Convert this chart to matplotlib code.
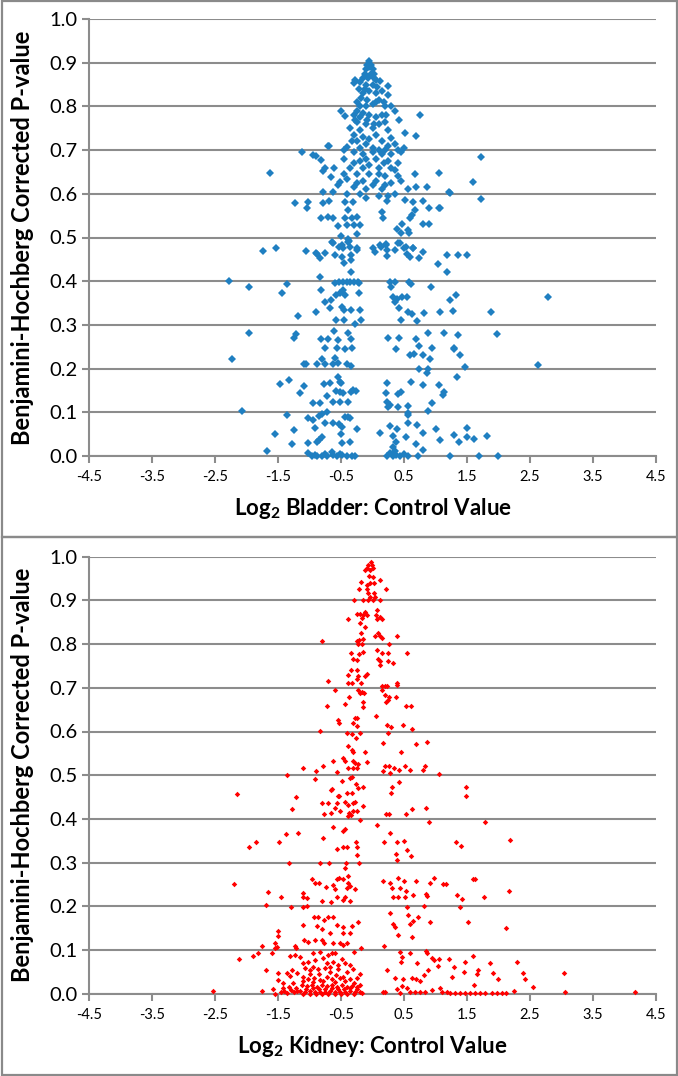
import matplotlib
matplotlib.use("Agg")
import matplotlib.pyplot as plt
from matplotlib.patches import Rectangle

plt.rcParams['font.family'] = ['Lato', 'DejaVu Sans']
plt.rcParams['mathtext.fontset'] = 'custom'
plt.rcParams['mathtext.rm'] = 'Lato'
plt.rcParams['mathtext.bf'] = 'Lato:bold'
plt.rcParams['axes.unicode_minus'] = False

# (log2 ratio, BH corrected p)
bladder_points = [
    # peak of the cone
    (-0.05, 0.905), (-0.08, 0.895), (-0.02, 0.895), (-0.10, 0.885), (0.00, 0.885), (-0.05, 0.890),
    (-0.12, 0.875), (-0.03, 0.875), (0.03, 0.875), (-0.15, 0.865), (-0.07, 0.865), (0.02, 0.865),
    (0.06, 0.860), (-0.20, 0.855), (-0.10, 0.850), (0.00, 0.850),
    (-0.30, 0.853), (0.12, 0.857), (0.25, 0.847), (-0.12, 0.840), (-0.05, 0.835), (0.05, 0.830),
    (0.24, 0.826), (-0.18, 0.820), (-0.08, 0.815), (0.10, 0.815), (0.18, 0.810), (-0.20, 0.800),
    (-0.10, 0.800), (0.00, 0.805), (0.20, 0.800), (0.30, 0.800), (-0.25, 0.790),
    (-0.28, 0.860), (-0.22, 0.840), (-0.15, 0.830), (0.07, 0.845), (0.15, 0.835), (-0.25, 0.810),
    (0.05, 0.810), (-0.28, 0.770), (-0.08, 0.770), (0.02, 0.760), (0.22, 0.780), (-0.33, 0.720),
    (-0.05, 0.725), (0.25, 0.710), (-0.45, 0.700), (-0.10, 0.680), (0.18, 0.670), (-0.30, 0.670),
    (0.30, 0.660), (-0.05, 0.665), (-0.45, 0.645), (0.10, 0.645), (0.40, 0.640), (-0.25, 0.625),
    (0.20, 0.620), (0.45, 0.630), (0.00, 0.620), (-0.40, 0.600), (0.25, 0.595), (-0.10, 0.590),
    (-0.50, 0.790), (-0.43, 0.778), (-0.30, 0.780), (-0.20, 0.775), (-0.15, 0.785), (-0.05, 0.780),
    (0.05, 0.775), (0.15, 0.780), (0.36, 0.790), (0.42, 0.770), (0.76, 0.781), (-0.25, 0.765),
    (-0.10, 0.760), (0.10, 0.760), (0.20, 0.765), (-0.35, 0.750), (-0.20, 0.745), (0.00, 0.750),
    (0.25, 0.745), (0.52, 0.740), (0.69, 0.733), (-0.30, 0.735), (-0.15, 0.730), (0.05, 0.735),
    (0.30, 0.728), (-0.25, 0.720), (-0.10, 0.715), (0.15, 0.720), (0.35, 0.715), (-0.69, 0.710),
    (-0.40, 0.708), (-0.20, 0.705), (0.00, 0.705), (0.10, 0.700), (0.20, 0.700), (0.40, 0.700),
    (0.50, 0.705),
    (-0.30, 0.695), (-0.15, 0.690), (0.00, 0.695), (0.15, 0.690), (0.30, 0.690), (0.45, 0.695),
    (-0.45, 0.680), (-0.20, 0.675), (0.05, 0.680), (0.25, 0.675), (0.40, 0.670), (-0.35, 0.660),
    (-0.15, 0.660), (0.10, 0.660), (0.35, 0.655), (-0.25, 0.645), (-0.05, 0.645), (0.20, 0.640),
    (-0.40, 0.635), (-0.15, 0.630), (0.05, 0.630), (0.30, 0.625), (-0.30, 0.615), (-0.10, 0.610),
    (0.15, 0.610), (-0.20, 0.600), (0.10, 0.595), (0.35, 0.600),
    # 0.6 - 0.7 spread
    (-1.124, 0.695), (-0.94, 0.689), (-0.90, 0.687), (-0.81, 0.677), (-0.754, 0.658), (-0.78, 0.652),
    (-0.606, 0.658), (-0.664, 0.639), (-0.516, 0.626), (-0.54, 0.620), (-1.627, 0.648), (-0.702, 0.710),
    (-0.78, 0.603),
    (1.72, 0.685), (0.675, 0.645), (1.05, 0.648), (1.60, 0.626), (0.86, 0.615), (0.685, 0.616),
    (0.569, 0.610), (1.23, 0.601), (1.72, 0.588), (1.219, 0.603), (1.071, 0.567),
    # 0.5 - 0.6
    (-1.225, 0.580), (-1.02, 0.582), (-1.045, 0.567), (-0.79, 0.580), (-0.685, 0.584), (-0.62, 0.603),
    (-0.436, 0.582), (-0.304, 0.582), (0.225, 0.584), (0.516, 0.586), (0.638, 0.582), (0.797, 0.583),
    (0.90, 0.567), (1.06, 0.567), (0.675, 0.563), (0.62, 0.552), (0.595, 0.544), (0.146, 0.559),
    (0.172, 0.544), (-0.81, 0.544), (-0.70, 0.546), (-0.62, 0.544), (-0.394, 0.563), (-0.43, 0.544),
    (-0.33, 0.544), (-0.24, 0.546), (-0.54, 0.527), (-0.41, 0.529), (-0.293, 0.529), (-0.198, 0.529),
    (0.807, 0.532), (0.90, 0.532), (0.463, 0.532), (0.384, 0.519), (0.447, 0.510), (0.569, 0.517),
    (0.585, 0.510), (-0.25, 0.508), (-0.50, 0.504), (-0.394, 0.496), (-0.37, 0.493), (-0.63, 0.488),
    (-0.49, 0.483), (0.12, 0.483), (0.22, 0.485), (0.41, 0.488), (0.532, 0.479), (0.65, 0.475),
    (-1.733, 0.470), (-1.532, 0.477), (-1.056, 0.470), (-0.897, 0.464), (-0.834, 0.452), (-0.754, 0.465),
    (-0.649, 0.490),
    # 0.4 - 0.5
    (-0.526, 0.479), (-0.463, 0.477), (-0.383, 0.490), (-0.357, 0.479), (-0.24, 0.477), (-0.24, 0.471),
    (-0.886, 0.463), (-0.595, 0.460), (-0.489, 0.456), (-0.452, 0.442), (-0.346, 0.460), (-0.341, 0.448),
    (0.00, 0.475), (0.04, 0.467), (0.135, 0.479), (0.215, 0.483), (0.225, 0.471), (0.225, 0.457),
    (0.357, 0.471), (0.437, 0.488), (0.50, 0.475), (0.553, 0.463), (0.638, 0.475), (0.595, 0.456),
    (0.807, 0.466), (0.744, 0.454), (1.045, 0.439), (1.177, 0.461), (1.363, 0.461), (1.495, 0.461),
    (1.177, 0.420),
    # around 0.3 - 0.4
    (-0.833, 0.410), (-0.595, 0.396), (-0.526, 0.399), (-0.463, 0.399), (-0.41, 0.399), (-0.357, 0.399),
    (-0.293, 0.399), (-0.235, 0.399), (-0.214, 0.395), (-0.341, 0.422), (-1.352, 0.393), (-1.44, 0.374),
    (-0.812, 0.380), (-0.473, 0.381), (-0.515, 0.372), (-0.436, 0.368), (-0.214, 0.373), (-0.754, 0.353),
    (-0.664, 0.358), (-0.579, 0.368), (-0.675, 0.338), (-0.897, 0.330), (-1.177, 0.320), (-0.489, 0.341),
    (-0.447, 0.334), (-0.341, 0.334), (-0.198, 0.334), (-0.579, 0.312), (-0.447, 0.312), (-0.182, 0.312),
    (-0.278, 0.303),
    (0.278, 0.399), (0.357, 0.399), (0.585, 0.399), (0.611, 0.393), (0.288, 0.387), (0.924, 0.386),
    (0.32, 0.364), (0.384, 0.360), (0.463, 0.363), (0.542, 0.364), (0.357, 0.353), (0.426, 0.338),
    (0.569, 0.330), (0.622, 0.325), (0.447, 0.312), (0.712, 0.309), (0.818, 0.328), (1.072, 0.330),
    (1.283, 0.332), (1.23, 0.358), (1.325, 0.368), (1.876, 0.330), (1.98, 0.279), (2.79, 0.363),
    (-2.273, 0.401), (-1.955, 0.386), (-1.955, 0.282), (-2.23, 0.222), (-2.066, 0.104),
    # 0.2 - 0.3
    (-1.214, 0.279), (-1.24, 0.269), (-0.817, 0.267), (-0.711, 0.267), (-0.606, 0.287), (-0.542, 0.265),
    (-0.383, 0.282), (-0.346, 0.267), (-0.759, 0.246), (-0.558, 0.246), (-0.436, 0.244), (-0.32, 0.246),
    (-0.595, 0.225), (-1.087, 0.210), (-1.055, 0.210), (-0.875, 0.210), (-0.754, 0.210), (-0.632, 0.210),
    (-0.542, 0.213), (-0.41, 0.210), (-0.346, 0.206), (-0.807, 0.223),
    (0.241, 0.271), (0.426, 0.269), (0.69, 0.267), (0.886, 0.282), (1.14, 0.282), (1.363, 0.276),
    (0.744, 0.251), (0.939, 0.248), (1.30, 0.246), (0.373, 0.244), (0.595, 0.231), (0.664, 0.233),
    (0.807, 0.231), (1.389, 0.231), (0.913, 0.221), (1.468, 0.203), (0.744, 0.200), (0.886, 0.200),
    (0.86, 0.189), (1.336, 0.180), (1.293, 0.245), (2.621, 0.208),
    # 0.1 - 0.2
    (-1.468, 0.165), (-1.32, 0.175), (-1.15, 0.145), (-1.087, 0.160), (-0.77, 0.164), (-0.675, 0.166),
    (-0.542, 0.180), (-0.515, 0.170), (-0.50, 0.166), (-0.579, 0.149), (-0.515, 0.147), (-0.463, 0.145),
    (-0.336, 0.147), (-0.304, 0.152), (-0.262, 0.149), (-0.727, 0.137), (-0.622, 0.124), (-0.515, 0.124),
    (-0.383, 0.124), (-0.95, 0.122), (-0.833, 0.122),
    (0.235, 0.168), (0.41, 0.142), (0.447, 0.147), (0.214, 0.145), (0.606, 0.170), (0.807, 0.162),
    (1.06, 0.162), (1.135, 0.147), (1.114, 0.139), (0.939, 0.122), (0.235, 0.124), (0.251, 0.113),
    (0.278, 0.116), (0.41, 0.111), (0.569, 0.114), (0.569, 0.099), (0.569, 0.094), (0.886, 0.103),
    (-0.727, 0.101), (-1.352, 0.094),
    # 0 - 0.1
    (-1.018, 0.088), (-0.939, 0.082), (-0.844, 0.091), (-0.807, 0.096), (-0.754, 0.076), (-0.632, 0.076),
    (-0.526, 0.073), (-0.489, 0.067), (-0.436, 0.090), (-0.383, 0.090), (-0.357, 0.086), (-1.246, 0.059),
    (-0.912, 0.065), (-0.807, 0.044), (-0.844, 0.036), (-0.875, 0.032), (-1.018, 0.030), (-1.283, 0.027),
    (-0.50, 0.050), (-0.357, 0.032), (-0.24, 0.061), (-0.489, 0.029), (-1.548, 0.050), (-1.68, 0.011),
    (0.119, 0.052), (0.278, 0.068), (0.384, 0.061), (0.558, 0.076), (0.701, 0.071), (0.807, 0.053),
    (1.00, 0.061), (0.32, 0.045), (0.373, 0.032), (0.32, 0.021), (0.357, 0.012), (0.532, 0.044),
    (0.69, 0.027), (0.807, 0.014), (1.072, 0.036), (1.294, 0.048), (1.378, 0.032), (1.505, 0.063),
    (1.495, 0.044), (1.61, 0.040), (1.812, 0.045),
    # along zero
    (-1.018, 0.008), (-0.966, 0.0), (-0.886, 0.0), (-0.807, 0.0), (-0.727, 0.0), (-0.648, 0.010),
    (-0.622, 0.002), (-0.569, 0.0), (-0.489, 0.002), (-0.41, 0.0), (-0.33, 0.0), (-0.278, 0.0),
    (0.225, 0.0), (0.278, 0.006), (0.331, 0.0), (0.437, 0.0), (0.569, 0.0), (0.728, 0.0), (1.23, 0.0),
    (1.696, 0.0), (1.997, 0.0), (-0.92, 0.003), (-0.75, 0.005), (-0.52, 0.004), (0.38, 0.003), (0.50, 0.004),
]

kidney_points = [
    # peak
    (-0.029, 0.989), (-0.066, 0.981), (-0.013, 0.981), (-0.093, 0.973), (0.013, 0.973), (-0.119, 0.969),
    (-0.04, 0.969), (-0.05, 0.956), (0.013, 0.954), (0.119, 0.947), (-0.188, 0.941), (-0.093, 0.935),
    (-0.04, 0.939), (0.024, 0.939), (-0.214, 0.925), (-0.093, 0.925), (0.209, 0.925), (-0.066, 0.916),
    (0.024, 0.916), (-0.04, 0.908), (0.039, 0.908), (-0.294, 0.901), (-0.156, 0.902), (-0.066, 0.901),
    (0.013, 0.901), (0.119, 0.901),
    (0.077, 0.878), (-0.252, 0.869), (-0.199, 0.870), (-0.146, 0.867), (-0.119, 0.874), (-0.093, 0.867),
    (-0.172, 0.859), (0.055, 0.867), (0.119, 0.863), (0.146, 0.857), (0.077, 0.857), (-0.384, 0.857),
    (-0.199, 0.849), (-0.119, 0.840),
    (-0.183, 0.825), (-0.807, 0.806), (-0.252, 0.806), (-0.209, 0.810), (-0.156, 0.811), (-0.225, 0.800),
    (-0.172, 0.800), (0.039, 0.819), (0.093, 0.825), (0.119, 0.819), (0.146, 0.813), (0.394, 0.819),
    (0.267, 0.800), (0.066, 0.786), (-0.342, 0.779), (-0.305, 0.767), (-0.252, 0.764), (-0.209, 0.777),
    (-0.146, 0.783), (0.146, 0.779), (0.251, 0.779), (0.542, 0.779), (0.092, 0.767), (0.119, 0.761),
    (0.251, 0.761), (0.33, 0.756), (0.119, 0.752),
    (-0.347, 0.741), (-0.241, 0.741), (-0.384, 0.729), (-0.225, 0.727), (-0.119, 0.727), (-0.093, 0.731),
    (-0.252, 0.719), (-0.384, 0.710), (-0.331, 0.712), (-0.188, 0.710), (-0.712, 0.715), (0.384, 0.712),
    (0.394, 0.706), (-0.595, 0.695), (-0.225, 0.696), (-0.172, 0.691), (-0.199, 0.687), (-0.13, 0.689),
    (0.146, 0.703), (0.199, 0.704), (0.236, 0.704), (0.146, 0.695), (0.199, 0.684), (0.267, 0.680),
    (0.373, 0.680), (-0.368, 0.680), (-0.146, 0.668), (0.214, 0.668), (0.251, 0.671), (-0.437, 0.664),
    (-0.728, 0.658), (-0.156, 0.657), (0.532, 0.658), (0.611, 0.658), (0.055, 0.635), (-0.543, 0.626),
    (-0.527, 0.620), (-0.278, 0.630), (-0.252, 0.630), (-0.305, 0.619), (-0.241, 0.612), (0.235, 0.615),
    (0.288, 0.611), (0.489, 0.615), (0.621, 0.605), (0.251, 0.597), (-0.834, 0.601), (-0.41, 0.597),
    (-0.32, 0.594), (-0.199, 0.597), (-0.262, 0.584), (0.172, 0.573), (0.86, 0.577), (0.69, 0.571),
    (-0.384, 0.567), (-0.32, 0.558), (-0.315, 0.552), (-0.119, 0.554), (0.452, 0.552), (-0.463, 0.539),
    (-0.437, 0.533), (-0.305, 0.533), (-0.278, 0.527), (-0.225, 0.526), (-0.093, 0.531), (-0.632, 0.532),
    (-0.791, 0.520), (-1.098, 0.517), (-0.897, 0.510), (-0.569, 0.508), (-0.384, 0.516), (-0.305, 0.516),
    (-0.252, 0.516), (0.198, 0.520), (0.267, 0.520), (0.346, 0.516), (0.426, 0.513), (0.516, 0.520),
    (0.595, 0.513), (0.161, 0.510), (0.278, 0.506), (0.807, 0.512), (0.833, 0.521), (1.06, 0.503),
    (-0.357, 0.493), (-0.913, 0.491), (-1.363, 0.500), (-0.659, 0.466), (-2.156, 0.456), (-1.22, 0.449),
    (-0.553, 0.452),
    # 0.4 - 0.5
    (-0.479, 0.487), (-0.331, 0.495), (-0.262, 0.481), (-0.146, 0.474), (-0.225, 0.470), (-0.648, 0.468),
    (-0.41, 0.460), (-0.331, 0.460), (-0.527, 0.452), (-0.807, 0.437), (-0.701, 0.437), (-0.569, 0.437),
    (-0.437, 0.439), (-0.305, 0.437), (-0.278, 0.439), (-0.595, 0.426), (-0.384, 0.432), (-0.156, 0.430),
    (-0.659, 0.414), (-0.77, 0.411), (-0.516, 0.417), (-0.368, 0.413), (-0.305, 0.417), (-0.252, 0.417),
    (-0.347, 0.409), (-0.384, 0.407), (-0.199, 0.397),
    (0.42, 0.485), (0.304, 0.472), (0.288, 0.460), (1.484, 0.472), (1.479, 0.452), (0.214, 0.411),
    (0.267, 0.411), (0.532, 0.411), (0.621, 0.422), (0.849, 0.424), (0.891, 0.394), (1.786, 0.394),
    # 0.3 - 0.4
    (0.077, 0.386), (-0.632, 0.382), (-0.474, 0.373), (-0.437, 0.378), (-0.791, 0.357), (0.278, 0.368),
    (0.183, 0.348), (0.384, 0.348), (0.50, 0.350), (-0.569, 0.330), (-0.463, 0.336), (-0.41, 0.335),
    (-0.262, 0.346), (-0.241, 0.335), (-0.252, 0.317), (0.542, 0.329), (0.373, 0.320), (0.611, 0.314),
    (0.384, 0.305), (1.325, 0.348), (1.41, 0.337), (2.18, 0.352),
    (-1.273, 0.423), (-1.379, 0.365), (-1.177, 0.367), (-1.48, 0.346), (-1.849, 0.346), (-1.955, 0.335),
    (-1.326, 0.300),
    # 0.2 - 0.3
    (-0.834, 0.300), (-0.685, 0.300), (-0.421, 0.300), (-0.214, 0.300), (-0.437, 0.287), (-0.384, 0.269),
    (-0.966, 0.262), (-0.913, 0.254), (-0.844, 0.254), (-0.738, 0.245), (-0.569, 0.262), (-0.527, 0.264),
    (-0.622, 0.249), (-0.595, 0.239), (-0.463, 0.262), (-0.384, 0.253), (-0.41, 0.241), (-0.357, 0.247),
    (-0.278, 0.239), (-0.437, 0.222), (-0.463, 0.214), (-0.357, 0.211), (-1.098, 0.231), (-1.109, 0.222),
    (-1.045, 0.218), (-0.57, 0.222), (-0.807, 0.213), (-0.659, 0.210),
    (0.172, 0.258), (0.278, 0.253), (0.41, 0.264), (0.50, 0.258), (0.69, 0.258), (0.304, 0.243),
    (0.437, 0.243), (0.532, 0.236), (0.637, 0.226), (0.33, 0.221), (0.41, 0.221), (0.516, 0.221),
    (0.849, 0.228), (0.87, 0.224), (0.912, 0.254), (0.976, 0.264), (1.114, 0.251), (1.166, 0.251),
    (1.335, 0.226), (1.415, 0.216), (1.60, 0.262), (1.627, 0.262), (1.775, 0.221), (2.17, 0.236),
    (-2.193, 0.251), (-1.654, 0.233), (-1.453, 0.222), (-1.697, 0.204), (-1.294, 0.199),
    # 0.1 - 0.2
    (0.817, 0.200), (0.553, 0.199), (1.39, 0.199), (0.278, 0.185), (0.569, 0.180), (0.727, 0.176),
    (0.648, 0.167), (0.595, 0.159), (0.912, 0.165), (1.521, 0.163), (0.33, 0.159), (0.357, 0.153),
    (0.41, 0.134), (0.621, 0.129), (0.188, 0.109), (2.12, 0.150),
    (-1.109, 0.199), (-1.035, 0.200), (-0.929, 0.176), (-0.86, 0.175), (-0.77, 0.169), (-0.701, 0.176),
    (-0.622, 0.176), (-1.109, 0.157), (-0.886, 0.155), (-0.807, 0.147), (-0.569, 0.157), (-0.463, 0.152),
    (-0.331, 0.155), (-0.225, 0.165), (-0.675, 0.140), (-0.463, 0.140), (-0.357, 0.140), (-1.087, 0.124),
    (-1.019, 0.119), (-0.913, 0.123), (-0.807, 0.124), (-0.77, 0.117), (-0.622, 0.117), (-0.516, 0.115),
    (-0.463, 0.111), (-0.41, 0.117), (-0.188, 0.104),
    (-1.495, 0.143), (-1.505, 0.132), (-1.548, 0.115), (-1.548, 0.104), (-1.51, 0.108), (-1.23, 0.109),
    (-1.214, 0.104), (-1.759, 0.109),
    # 0 - 0.1
    (-0.294, 0.096), (-0.939, 0.092), (-0.834, 0.096), (-0.648, 0.094), (-0.595, 0.092), (-1.151, 0.085),
    (-1.812, 0.094), (-1.902, 0.086), (-2.114, 0.079), (-1.60, 0.094), (-1.31, 0.086), (-1.23, 0.088),
    (-1.697, 0.054), (-1.495, 0.047), (-1.495, 0.031), (-1.363, 0.047), (-1.28, 0.054), (-1.31, 0.040),
    (-1.193, 0.048), (-1.416, 0.025), (-1.257, 0.024),
    (-1.098, 0.070), (-1.019, 0.073), (-0.913, 0.076), (-0.781, 0.081), (-0.728, 0.070), (-0.622, 0.073),
    (-0.49, 0.079), (-0.437, 0.070), (-1.072, 0.058), (-0.992, 0.054), (-0.86, 0.056), (-0.754, 0.058),
    (-0.675, 0.050), (-0.542, 0.056), (-0.41, 0.050), (-0.305, 0.056), (-1.098, 0.039), (-1.019, 0.033),
    (-0.929, 0.037), (-0.834, 0.031), (-0.728, 0.039), (-0.648, 0.033), (-0.516, 0.035), (-0.437, 0.030),
    (-0.357, 0.033), (-0.251, 0.035), (-1.124, 0.020), (-1.045, 0.018), (-0.966, 0.020), (-0.886, 0.016),
    (-0.807, 0.020), (-0.728, 0.018), (-0.648, 0.020), (-0.569, 0.016), (-0.49, 0.020), (-0.41, 0.016),
    (-0.331, 0.018), (-0.252, 0.016), (-1.151, 0.007), (-1.072, 0.005), (-0.992, 0.007), (-0.913, 0.003),
    (-0.834, 0.005), (-0.754, 0.003), (-0.675, 0.007), (-0.595, 0.003), (-0.516, 0.005), (-0.437, 0.003),
    (-0.357, 0.007), (-0.278, 0.003), (-0.199, 0.005), (-0.172, 0.001),
    (-1.10, 0.000), (-1.00, 0.000), (-0.90, 0.000), (-0.80, 0.000), (-0.70, 0.000), (-0.60, 0.000),
    (-0.50, 0.000), (-0.40, 0.000), (-0.30, 0.000), (-0.25, 0.010), (-1.05, 0.011), (-0.95, 0.012),
    (-0.85, 0.010), (-0.75, 0.011), (-0.65, 0.012), (-0.55, 0.010), (-0.45, 0.011), (-0.35, 0.012),
    (-0.20, 0.020), (-0.30, 0.025), (-0.60, 0.027), (-0.78, 0.028), (-0.95, 0.026), (-1.10, 0.030),
    (-0.20, 0.045), (-0.85, 0.046), (-0.58, 0.043), (-1.00, 0.045), (-0.35, 0.065), (-0.70, 0.088),
    (-0.55, 0.065), (-0.95, 0.062), (-0.47, 0.038), (-0.68, 0.060),
    (-1.45, 0.003), (-1.40, 0.006), (-1.35, 0.002), (-1.30, 0.008), (-1.25, 0.003), (-1.20, 0.006),
    (-1.42, 0.012), (-1.33, 0.015), (-1.22, 0.013), (-2.527, 0.007), (-1.749, 0.007), (-1.575, 0.010),
    (-1.548, 0.0),
    (0.437, 0.096), (0.849, 0.098), (0.87, 0.092), (0.595, 0.094), (0.463, 0.085), (0.447, 0.073),
    (0.711, 0.071), (0.939, 0.081), (0.976, 0.077), (1.06, 0.079), (1.219, 0.079), (1.468, 0.073),
    (1.60, 0.086), (1.865, 0.071), (0.235, 0.054), (0.817, 0.043), (0.886, 0.054), (1.045, 0.063),
    (1.293, 0.060), (1.452, 0.050), (1.68, 0.054), (1.664, 0.045), (1.918, 0.048), (0.357, 0.037),
    (0.489, 0.033), (0.621, 0.035), (0.69, 0.033), (0.754, 0.028), (1.256, 0.039), (1.616, 0.020),
    (1.987, 0.033), (0.384, 0.010), (0.463, 0.018), (0.553, 0.012), (0.595, 0.005), (0.674, 0.005),
    (0.754, 0.005), (0.833, 0.003), (0.939, 0.009), (1.071, 0.012), (1.097, 0.003), (1.177, 0.003),
    (1.23, 0.001), (1.31, 0.001), (1.39, 0.001), (1.468, 0.001), (1.548, 0.001), (1.627, 0.001),
    (1.706, 0.001), (1.786, 0.001), (1.89, 0.001), (1.97, 0.001), (0.172, 0.005), (0.198, 0.003),
    (0.437, 0.001),
    (2.29, 0.073), (2.39, 0.047), (2.42, 0.034), (2.54, 0.016), (3.04, 0.047), (3.05, 0.003),
    (4.17, 0.003), (2.25, 0.006), (2.12, 0.002), (2.05, 0.002),
]

x_ticks = [-4.5, -3.5, -2.5, -1.5, -0.5, 0.5, 1.5, 2.5, 3.5, 4.5]
y_ticks = [0.0, 0.1, 0.2, 0.3, 0.4, 0.5, 0.6, 0.7, 0.8, 0.9, 1.0]

W, H = 678, 1076
fig = plt.figure(figsize=(W / 100, H / 100), dpi=100)

# panel frames (pixel boxes converted to figure fractions)
for top, bottom in [(1, 537), (537, 1075)]:
    fig.add_artist(Rectangle((1.5 / W, 1 - bottom / H), 675 / W, (bottom - top) / H,
                             transform=fig.transFigure, fill=False,
                             edgecolor='#8a8a8a', linewidth=1.6))

grey = '#8c8c8c'


def draw_panel(ax, pts, color, ms, xlabel):
    xs = [p[0] for p in pts]
    ys = [p[1] for p in pts]
    ax.plot(xs, ys, linestyle='none', marker='D', markersize=ms,
            markerfacecolor=color, markeredgewidth=0, clip_on=False, zorder=3)
    ax.set_xlim(-4.5, 4.5)
    ax.set_ylim(0, 1.0)
    ax.set_xticks(x_ticks)
    ax.set_xticklabels(['%.1f' % v for v in x_ticks], fontsize=10.5)
    ax.set_yticks(y_ticks)
    ax.set_yticklabels(['%.1f' % v for v in y_ticks], fontsize=14.5)
    ax.yaxis.grid(True, color=grey, linewidth=1.5)
    ax.set_axisbelow(True)
    for s in ['top', 'right']:
        ax.spines[s].set_visible(False)
    for s in ['left', 'bottom']:
        ax.spines[s].set_color(grey)
        ax.spines[s].set_linewidth(1.5)
    ax.tick_params(axis='both', color=grey, width=1.5, length=5, direction='out')
    ax.tick_params(axis='y', pad=3)
    ax.tick_params(axis='x', pad=5)
    ax.set_ylabel('Benjamini-Hochberg Corrected P-value', fontsize=17, fontweight='bold')
    ax.yaxis.set_label_coords(-0.118, 0.5)
    ax.yaxis.label.set_va('center')
    ax.set_xlabel(xlabel, fontsize=16, fontweight='bold', labelpad=9)


ax1 = fig.add_axes([89 / W, 1 - 456 / H, 567 / W, 437 / H])
draw_panel(ax1, bladder_points, '#1f7fc1', 3.8, r'Log$_\mathbf{2}$ Bladder: Control Value')

ax2 = fig.add_axes([89 / W, 1 - 993.7 / H, 567 / W, 437 / H])
draw_panel(ax2, kidney_points, '#ff0000', 2.8, r'Log$_\mathbf{2}$ Kidney: Control Value')

fig.savefig('out.png', dpi=100)
